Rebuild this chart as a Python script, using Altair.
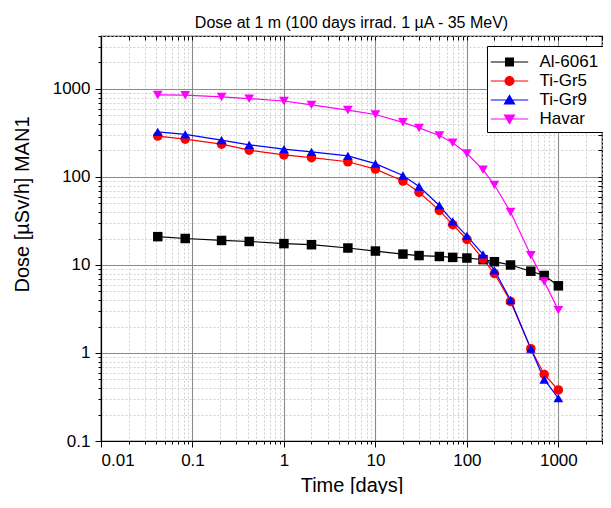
import altair as alt
import pandas as pd

# ---- data ----
times = [0.0417, 0.0833, 0.208, 0.417, 1, 2, 5, 10, 20, 30, 50, 70, 100, 150, 200, 300, 500, 700, 1000]
al6061 = [21, 20, 19, 18.5, 17.5, 17, 15.6, 14.4, 13.3, 12.8, 12.5, 12.2, 12.0, 11.5, 10.9, 10.0, 8.5, 7.6, 5.8]
tigr5 = [292, 269, 236, 202, 178, 166, 149, 123, 90, 67, 41.7, 28.7, 19.5, 11.7, 8.0, 3.85, 1.12, 0.57, 0.38]
tigr9 = [325, 305, 262, 232, 207, 193, 174, 142, 104, 78, 47.5, 31.3, 21.4, 13.2, 8.7, 4.0, 1.12, 0.50, 0.307]
havar = [855, 850, 812, 777, 730, 660, 576, 513, 418, 361, 296, 245, 185, 121, 81, 40, 12.9, 6.5, 3.07]

series = ["Al-6061", "Ti-Gr5", "Ti-Gr9", "Havar"]
colors = ["#000000", "#ff0000", "#0000ff", "#ff00ff"]
shapes = ["square", "circle", "triangle-up", "triangle-down"]
sizes = [90, 95, 130, 130]

x_domain = [0.01, 3000]
y_domain = [0.1, 4000]
x_ticks = [m * 10.0 ** e for e in range(-2, 4) for m in range(1, 10) if m * 10.0 ** e <= 3000]
y_ticks = [m * 10.0 ** e for e in range(-1, 4) for m in range(1, 10) if m * 10.0 ** e <= 4000]

title_text = "Dose at 1 m (100 days irrad. 1 µA - 35 MeV)"
x_title = "Time [days]"
y_title = "Dose [µSv/h] MAN1"

# legend glyphs: line + marker (custom SVG paths, unit box)
line_path = "M-1.7,-0.055H1.7V0.055H-1.7Z"
legend_paths = [
    line_path + "M-0.41,-0.41H0.41V0.41H-0.41Z",
    line_path + "M-0.45,0A0.45,0.45,0,1,1,0.45,0A0.45,0.45,0,1,1,-0.45,0Z",
    line_path + "M0,-0.52L0.55,0.42H-0.55Z",
    line_path + "M0,0.52L-0.55,-0.42H0.55Z",
]

rows = []
for name, vals in zip(series, [al6061, tigr5, tigr9, havar]):
    for t, v in zip(times, vals):
        rows.append({"t": t, "v": v, "series": name, "lg": name})
df = pd.DataFrame(rows)
df_leg = df.groupby("series", sort=False).head(1)

FONT = "Liberation Sans"
MAJOR = "abs(log(datum.value)/LN10 - round(log(datum.value)/LN10)) < 0.001"


def log_axis(values, title, **kw):
    return alt.Axis(
        values=values,
        format="~g",
        labelExpr=f"({MAJOR}) ? datum.label : ''",
        labelOverlap=False,
        title=title,
        grid=True,
        gridColor={"condition": {"test": MAJOR, "value": "#8a8a8a"}, "value": "#c4c4c4"},
        gridDash={"condition": {"test": MAJOR, "value": []}, "value": [2, 2]},
        gridWidth={"condition": {"test": MAJOR, "value": 1.1}, "value": 0.8},
        tickSize={"condition": {"test": MAJOR, "value": 6}, "value": 3},
        **kw,
    )


def mirror_axis(values, orient):
    # tick-only axis on the opposite side, ticks pointing into the plot
    return alt.Axis(
        orient=orient, values=values, labels=False, domain=False, grid=False,
        ticks=True, tickSize=4, offset=-4, title=None,
    )


x_axis = log_axis(x_ticks, x_title, orient="bottom", labelPadding=5,
                  titleBaseline="alphabetic", titleY=50)
y_axis = log_axis(y_ticks, y_title, orient="left", labelPadding=5, titleAngle=270,
                  titleAlign="center", titleBaseline="middle", titleX=-79, titleY=168)

XS = alt.Scale(type="log", domain=x_domain)
YS = alt.Scale(type="log", domain=y_domain)

cscale = alt.Scale(domain=series, range=colors)

lines = alt.Chart(df).mark_line(strokeWidth=1.2).encode(
    x=alt.X("t:Q", scale=XS, axis=x_axis),
    y=alt.Y("v:Q", scale=YS, axis=y_axis),
    color=alt.Color("series:N", scale=cscale, legend=None),
)
points = alt.Chart(df).mark_point(filled=True, opacity=1).encode(
    x=alt.X("t:Q", scale=XS, axis=None),
    y=alt.Y("v:Q", scale=YS, axis=None),
    color=alt.Color("series:N", scale=cscale, legend=None),
    shape=alt.Shape("series:N", scale=alt.Scale(domain=series, range=shapes), legend=None),
    size=alt.Size("series:N", scale=alt.Scale(domain=series, range=sizes), legend=None),
)

legend = alt.Legend(
    title=None, orient="none", legendX=386, legendY=10,
    symbolSize=484, symbolStrokeWidth=0, symbolOpacity=1,
    symbolOffset=6.5, labelOffset=19,
    labelFont=FONT, labelFontSize=17, labelColor="black",
    strokeColor="black", fillColor="white", padding=5, rowPadding=0,
)
legend_layer = alt.Chart(df_leg).mark_point(filled=True, opacity=0).encode(
    x=alt.X("t:Q", scale=XS, axis=mirror_axis(x_ticks, "top")),
    y=alt.Y("v:Q", scale=YS, axis=mirror_axis(y_ticks, "right")),
    color=alt.Color("lg:N", scale=alt.Scale(domain=series, range=colors), legend=legend),
    shape=alt.Shape("lg:N", scale=alt.Scale(domain=series, range=legend_paths), legend=legend),
)

chart = (
    alt.layer(lines, points, legend_layer)
    .resolve_scale(color="independent", shape="independent", size="independent")
    .resolve_axis(x="independent", y="independent")
    .properties(
        width=501, height=405,
        autosize=alt.AutoSizeParams(type="none"),
        padding={"left": 93, "top": 28, "right": 1, "bottom": 53},
        background="white",
        title=alt.TitleParams(title_text, font=FONT, fontSize=16, fontWeight="normal",
                              anchor="middle", frame="group", offset=7, dy=11, color="black"),
    )
    .configure_view(stroke="black", strokeWidth=1.2)
    .configure_axis(
        labelFont=FONT, labelFontSize=17, labelColor="black",
        titleFont=FONT, titleFontSize=20, titleFontWeight="normal", titleColor="black",
        domainColor="black", domainWidth=1.2, tickColor="black", tickWidth=1,
    )
)

chart.save("out.html", embed_options={"renderer": "svg", "actions": False})
